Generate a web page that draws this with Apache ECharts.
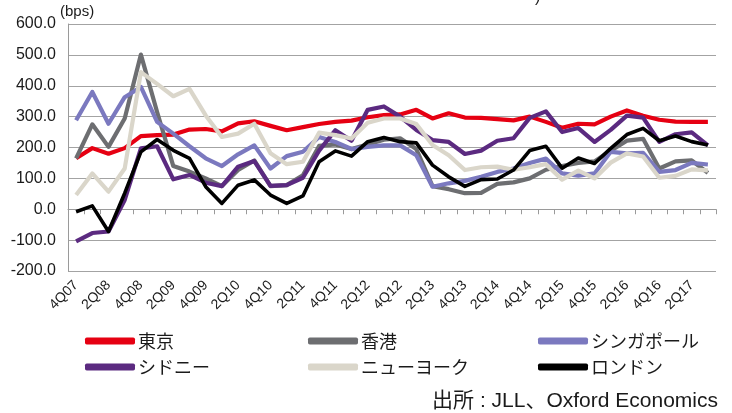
<!DOCTYPE html>
<html>
<head>
<meta charset="utf-8">
<script src="https://cdn.jsdelivr.net/npm/echarts@6/dist/echarts.min.js"></script>
<style>
  html, body { margin: 0; padding: 0; background: #fff; }
  #chart { width: 732px; height: 413px; }
</style>
</head>
<body>
<div id="chart"></div>
<script>
// Quarterly spread series, 4Q07 – 3Q17 (bps)
const categories = [
  '4Q07','1Q08','2Q08','3Q08','4Q08','1Q09','2Q09','3Q09','4Q09','1Q10',
  '2Q10','3Q10','4Q10','1Q11','2Q11','3Q11','4Q11','1Q12','2Q12','3Q12',
  '4Q12','1Q13','2Q13','3Q13','4Q13','1Q14','2Q14','3Q14','4Q14','1Q15',
  '2Q15','3Q15','4Q15','1Q16','2Q16','3Q16','4Q16','1Q17','2Q17','3Q17'
];

const tokyo = [
  165, 198, 180, 198, 237, 240, 242, 258, 260, 252,
  278, 285, 270, 256, 266, 276, 283, 287, 298, 305,
  307, 322, 294, 311, 297, 296, 292, 288, 300, 283,
  264, 277, 275, 300, 320, 303, 290, 284, 283, 283
];
const hongkong = [
  165, 275, 202, 294, 501, 315, 140, 122, 100, 75,
  127, 158, 75, 78, 110, 205, 210, 195, 210, 225,
  230, 195, 75, 65, 52, 53, 82, 87, 100, 128,
  140, 150, 155, 190, 222, 228, 132, 155, 158, 118
];
const singapore = [
  288, 380, 277, 363, 396, 283, 245, 204, 165, 140,
  178, 207, 132, 172, 186, 234, 218, 195, 202, 207,
  207, 175, 73, 84, 92, 105, 121, 132, 150, 164,
  116, 109, 116, 186, 181, 183, 121, 127, 150, 145
];
const sydney = [
  -104, -77, -72, 30, 197, 204, 97, 111, 86, 75,
  138, 156, 76, 78, 102, 190, 256, 222, 322, 333,
  300, 257, 224, 218, 179, 190, 222, 230, 296, 317,
  250, 263, 218, 257, 303, 297, 218, 243, 249, 207
];
const newyork = [
  46, 116, 57, 132, 444, 406, 366, 390, 304, 234,
  245, 277, 181, 146, 154, 248, 240, 229, 280, 294,
  294, 276, 208, 175, 127, 136, 138, 128, 136, 146,
  96, 125, 100, 151, 181, 171, 102, 108, 129, 126
];
const london = [
  -8, 11, -72, 52, 186, 226, 191, 165, 73, 19,
  78, 95, 46, 19, 43, 154, 189, 172, 219, 232,
  219, 215, 143, 105, 74, 96, 98, 127, 190, 204,
  133, 166, 148, 197, 242, 262, 222, 237, 219, 208
];

const seriesNames = ['東京', '香港', 'シンガポール', 'シドニー', 'ニューヨーク', 'ロンドン'];
const seriesData = [tokyo, hongkong, singapore, sydney, newyork, london];
const seriesColors = ['#e60012', '#6d6e71', '#7b79bf', '#5b2a80', '#dad6ca', '#000000'];

const yMin = -200, yMax = 600, yStep = 100;

const latinFont = '"Liberation Sans", Arial, sans-serif';
const cjkFont = '"Noto Sans CJK JP", sans-serif';

// legend cells laid out as a 3 x 2 block
const legendCols = [80, 303, 533];
const legendRows = [327, 353];
const legends = seriesNames.map((name, i) => ({
  data: [name],
  left: legendCols[i % 3],
  top: legendRows[Math.floor(i / 3)],
  icon: 'roundRect',
  itemWidth: 50,
  itemHeight: 7,
  itemGap: 0,
  selectedMode: false,
  textStyle: { fontSize: 18, fontFamily: cjkFont, color: '#1a1a1a', padding: [0, 0, 0, -2] }
}));

const chart = echarts.init(document.getElementById('chart'), null, { renderer: 'canvas' });

chart.setOption({
  animation: false,
  backgroundColor: '#ffffff',
  grid: { left: 68, right: 16, top: 24, bottom: 142 },
  legend: legends,
  xAxis: [
    {
      // labels along the bottom edge
      type: 'category',
      data: categories,
      boundaryGap: true,
      position: 'bottom',
      axisLine: { show: false, onZero: false },
      axisTick: { show: false },
      axisLabel: {
        interval: 1,
        rotate: 45,
        margin: 12,
        fontSize: 14,
        fontFamily: latinFont,
        color: '#1a1a1a'
      },
      splitLine: { show: false }
    },
    {
      // zero line with boundary tick marks
      type: 'category',
      data: categories,
      boundaryGap: true,
      position: 'bottom',
      axisLine: { show: true, onZero: true, lineStyle: { color: '#9a9a9a', width: 1 } },
      axisTick: { show: true, interval: 0, length: 5, inside: false, lineStyle: { color: '#9a9a9a' } },
      axisLabel: { show: false },
      splitLine: { show: false }
    }
  ],
  yAxis: {
    type: 'value',
    min: yMin,
    max: yMax,
    interval: yStep,
    axisLine: { show: true, lineStyle: { color: '#9a9a9a', width: 1 } },
    axisTick: { show: false },
    axisLabel: {
      margin: 12,
      fontSize: 16,
      fontFamily: latinFont,
      color: '#1a1a1a',
      formatter: v => v.toFixed(1)
    },
    splitLine: { show: true, lineStyle: { color: '#a3a3a3', width: 1 } }
  },
  graphic: [
    {
      type: 'text',
      left: 60,
      top: 4,
      style: { text: '(bps)', font: '15px ' + latinFont, fill: '#1a1a1a' }
    },
    {
      // tail of the heading above the plot
      type: 'text',
      left: 535,
      top: -10,
      style: { text: ')', font: '16px ' + latinFont, fill: '#1a1a1a' }
    },
    {
      type: 'text',
      right: 14,
      top: 391,
      style: { text: '出所 : JLL、Oxford Economics', font: '21px "Liberation Sans", ' + cjkFont, fill: '#1a1a1a' }
    }
  ],
  series: seriesNames.map((name, i) => ({
    name: name,
    type: 'line',
    xAxisIndex: 0,
    data: seriesData[i],
    symbol: 'none',
    smooth: false,
    lineStyle: { color: seriesColors[i], width: i === 5 ? 3.6 : 4.2, join: 'round' },
    itemStyle: { color: seriesColors[i] },
    z: 2 + i
  }))
});
</script>
</body>
</html>
